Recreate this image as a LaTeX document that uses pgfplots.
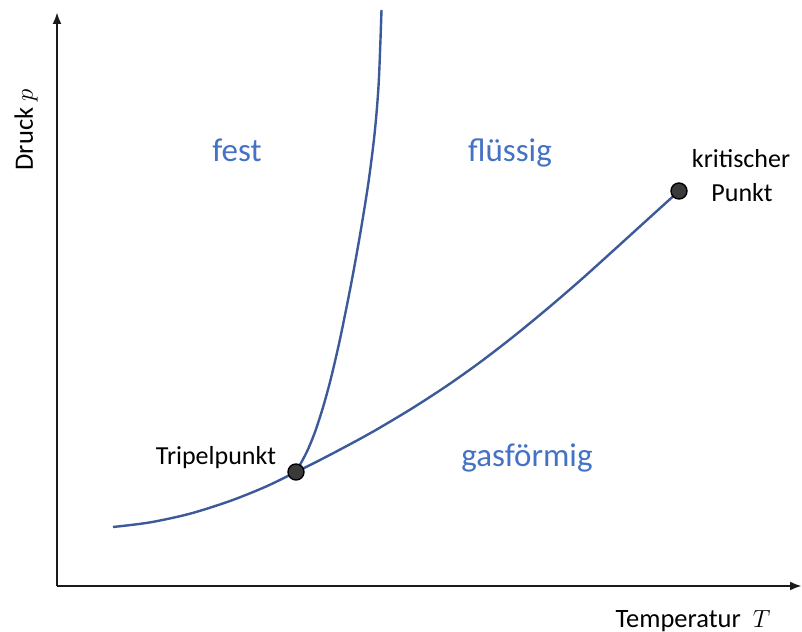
\documentclass[border=0pt]{standalone}
\usepackage{pgfplots}
\pgfplotsset{compat=1.18}
\usepackage{fontspec}
\setmainfont{Carlito}
\usetikzlibrary{arrows.meta}
\definecolor{curve}{HTML}{3C5A9A}
\definecolor{region}{HTML}{4472C4}
\definecolor{dot}{HTML}{3A3A3A}
\definecolor{axisc}{HTML}{1A1A1A}

% pixel-space data (x, 632 - y)
\pgfplotstableread{
x y
113 105
150 109.6
190 118.3
230 131
265 145
296 160
323 173.5
357 191.5
380 204.4
413 224.2
447 246.3
480 269.7
513 295.1
547 323
580 351.4
613 381.1
646 411.1
679 441
}\vapor
\pgfplotstableread{
x y
296 160
306.75 180
315 200
323.1 225
330 250
336 275
341.5 300
351.5 350
360.5 400
368.5 450
374.75 500
378.75 550
381.5 622
}\melt

\begin{document}
\begin{tikzpicture}
\begin{axis}[
  width=802bp, height=632bp, scale only axis,
  xmin=0, xmax=802, ymin=0, ymax=632,
  axis lines=none, clip=false,
]
% axes
\addplot[axisc, line width=2.3bp, -{Latex[length=12bp,width=9bp]}] coordinates {(57,46) (57,620)};
\addplot[axisc, line width=2.3bp, -{Latex[length=12bp,width=9bp]}] coordinates {(57,46) (802,46)};
% curves
\addplot[curve, line width=2.4bp, smooth] table {\vapor};
\addplot[curve, line width=2.4bp, smooth] table {\melt};
% points
\addplot[only marks, mark=*, mark size=8bp, mark options={fill=dot, draw=black, line width=1.4bp}] coordinates {(296,160) (679,441)};
% labels
\node[anchor=base, text=region, font=\fontsize{33bp}{38bp}\selectfont] at (axis cs:237,470) {fest};
\node[anchor=base, text=region, font=\fontsize{33bp}{38bp}\selectfont] at (axis cs:510,470) {flüssig};
\node[anchor=base, text=region, font=\fontsize{33bp}{38bp}\selectfont] at (axis cs:527,165) {gasförmig};
\node[anchor=base, font=\fontsize{26bp}{30bp}\selectfont] at (axis cs:216,167) {Tripelpunkt};
\node[anchor=base, font=\fontsize{26bp}{30bp}\selectfont] at (axis cs:741,464) {kritischer};
\node[anchor=base, font=\fontsize{26bp}{30bp}\selectfont] at (axis cs:742,430) {Punkt};
\node[anchor=base, rotate=90, font=\fontsize{26.5bp}{30bp}\selectfont] at (axis cs:33,502) {Druck~$p$};
\node[anchor=base, font=\fontsize{26.5bp}{30bp}\selectfont] at (axis cs:693,5) {Temperatur~~$T$};
\end{axis}
\pgfresetboundingbox
\path (0,0) rectangle (802bp,632bp);
\end{tikzpicture}
\end{document}
